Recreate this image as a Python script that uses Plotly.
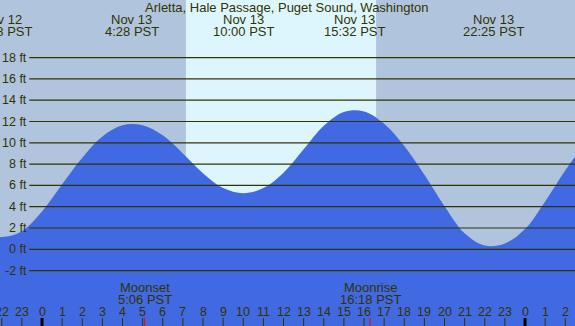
import plotly.graph_objects as go

# ---------------- data (hours since Nov 13 00:00 PST, feet) ----------------
tide_hours = [-3, -2, -1, 0, 1, 2, 3, 4, 5, 6, 7, 8, 9, 10, 11, 12, 13, 14, 15,
              16, 17, 18, 19, 20, 21, 22, 23, 24, 25, 26, 27]
tide_feet = [1.5, 1.15, 1.7, 3.55, 6.1, 8.6, 10.6, 11.65, 11.65, 10.7, 9.0, 7.15,
             5.75, 5.26, 5.75, 7.2, 9.4, 11.6, 12.9, 12.95, 11.8, 9.7, 7.0, 4.05,
             1.5, 0.35, 0.55, 1.9, 4.5, 7.4, 10.0]

extreme_hours = [-2.03, 4.47, 10.0, 15.53, 22.42]
extreme_dates = ["Nov 12", "Nov 13", "Nov 13", "Nov 13", "Nov 13"]
extreme_times = ["21:58 PST", "4:28 PST", "10:00 PST", "15:32 PST", "22:25 PST"]

sunrise_hour = 7.15
sunset_hour = 16.6

moon_hours = [5.1, 16.3]
moon_names = ["Moonset", "Moonrise"]
moon_times = ["5:06 PST", "16:18 PST"]

grid_feet = [-2, 0, 2, 4, 6, 8, 10, 12, 14, 16, 18]
hour_ticks = list(range(-2, 27))

title = "Arletta, Hale Passage, Puget Sound, Washington"

# ---------------- styling ----------------
W, H = 575, 326
X_RANGE = [-2.087, 26.484]
Y_RANGE = [-7.20, 23.41]
BG = "#b0c4de"
DAY = "#ddf6fe"
WATER = "#4169e1"
INK = "#333300"
FONT = "Liberation Sans, Arial, sans-serif"


def py(px):
    """pixel row from top -> paper coordinate"""
    return 1 - px / H


fig = go.Figure()

# invisible baseline so the tide fill reaches below the plot
fig.add_trace(go.Scatter(x=[tide_hours[0], tide_hours[-1]], y=[-20, -20],
                         mode="lines", line=dict(width=0), hoverinfo="skip",
                         showlegend=False))
fig.add_trace(go.Scatter(x=tide_hours, y=tide_feet, mode="lines",
                         line=dict(width=0, shape="spline", smoothing=1.0, color=WATER),
                         fill="tonexty", fillcolor=WATER, hoverinfo="skip",
                         showlegend=False))

shapes = []
# daylight
shapes.append(dict(type="rect", xref="x", yref="paper", x0=sunrise_hour, x1=sunset_hour,
                   y0=0, y1=1, fillcolor=DAY, line=dict(width=0), layer="below"))
# grid lines
for f in grid_feet:
    shapes.append(dict(type="line", xref="paper", yref="y", x0=29.3 / W, x1=1,
                       y0=f, y1=f, line=dict(color=INK, width=1.2), layer="above"))
# hour ticks
for h in hour_ticks:
    midnight = (h % 24 == 0)
    shapes.append(dict(type="line", xref="x", yref="paper", x0=h, x1=h,
                       y0=0, y1=py(318),
                       line=dict(color="#000000" if midnight else INK,
                                 width=3 if midnight else 1), layer="above"))
# moon ticks
for h in moon_hours:
    shapes.append(dict(type="line", xref="x", yref="paper", x0=h, x1=h,
                       y0=0, y1=py(318), line=dict(color="#ff0000", width=1),
                       layer="above"))

ann = []
font = dict(family=FONT, size=13, color=INK)
common = dict(showarrow=False, borderpad=0)
ann.append(dict(text=title, xref="paper", yref="paper", x=287 / W, y=py(7.5),
                xanchor="center", yanchor="middle", font=font, **common))
for h, d, t in zip(extreme_hours, extreme_dates, extreme_times):
    ann.append(dict(text=d, xref="x", yref="paper", x=h, y=py(19),
                    xanchor="center", yanchor="middle", font=font, **common))
    ann.append(dict(text=t, xref="x", yref="paper", x=h, y=py(31.7),
                    xanchor="center", yanchor="middle", font=font, **common))
for f in grid_feet:
    ann.append(dict(text=f"{f} ft", xref="paper", yref="y", x=27.5 / W, y=f,
                    xanchor="right", yanchor="middle",
                    font=dict(family=FONT, size=12.5, color=INK), **common))
for h, n, t in zip(moon_hours, moon_names, moon_times):
    ann.append(dict(text=n, xref="x", yref="paper", x=h, y=py(287.3),
                    xanchor="center", yanchor="middle", font=font, **common))
    ann.append(dict(text=t, xref="x", yref="paper", x=h, y=py(299.7),
                    xanchor="center", yanchor="middle", font=font, **common))
for h in hour_ticks:
    ann.append(dict(text=str(h % 24), xref="x", yref="paper", x=h, y=py(311.5),
                    xanchor="center", yanchor="middle",
                    font=dict(family=FONT, size=12.5, color=INK), **common))

fig.update_layout(
    width=W, height=H, margin=dict(l=0, r=0, t=0, b=0),
    paper_bgcolor=BG, plot_bgcolor=BG,
    xaxis=dict(range=X_RANGE, visible=False, fixedrange=True),
    yaxis=dict(range=Y_RANGE, visible=False, fixedrange=True),
    shapes=shapes, annotations=ann, showlegend=False,
)

fig.write_html("out.html", config={"displayModeBar": False},
               post_script="document.body.style.margin='0px';"
                           "document.body.style.overflow='hidden';")
